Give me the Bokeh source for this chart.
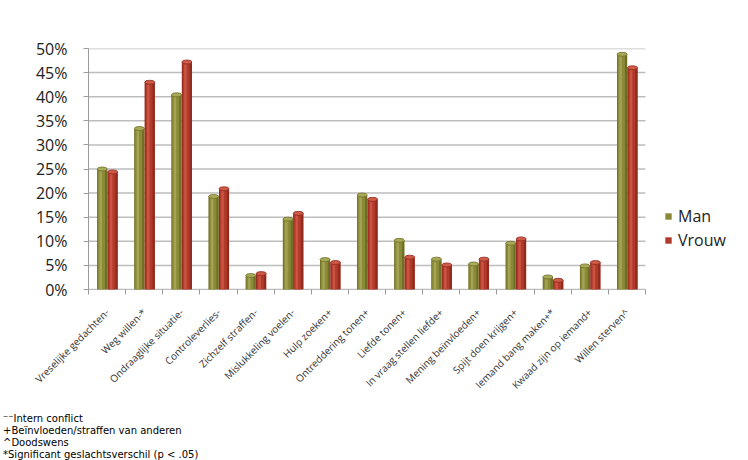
from bokeh.plotting import figure
from bokeh.models import (Range1d, FixedTicker, PrintfTickFormatter,
                          Legend, LegendItem, ColumnDataSource, Div)
from bokeh.layouts import column
from bokeh.embed import file_html
from bokeh.resources import INLINE
import math

categories = ["Vreselijke gedachten-", "Weg willen-*", "Ondraaglijke situatie-",
              "Controleverlies-", "Zichzelf straffen-", "Mislukkeling voelen-",
              "Hulp zoeken+", "Ontreddering tonen+", "Liefde tonen+",
              "In vraag stellen liefde+", "Mening beïnvloeden+", "Spijt doen krijgen+",
              "Iemand bang maken+*", "Kwaad zijn op iemand+", "Willen sterven^"]
man = [25.0, 33.4, 40.4, 19.3, 2.9, 14.6, 6.2, 19.6, 10.2, 6.3, 5.3, 9.6, 2.6, 4.9, 48.8]
vrouw = [24.4, 43.0, 47.2, 20.9, 3.3, 15.8, 5.6, 18.7, 6.7, 5.1, 6.3, 10.5, 1.9, 5.6, 46.0]
y_ticks = [0, 5, 10, 15, 20, 25, 30, 35, 40, 45, 50]
series_names = ["Man", "Vrouw"]
footnotes = ["\u207b\u207bIntern conflict", "+Beïnvloeden/straffen van anderen",
             "^Doodswens", "*Significant geslachtsverschil (p &lt; .05)"]

MAN_C, MAN_D, MAN_L = "#8a8a38", "#6e6e26", "#a9a95a"
VR_C, VR_D, VR_L = "#b23a2b", "#8e2a1e", "#cf5a48"

n = len(categories)
pos = [i + 0.5 for i in range(n)]
bounds = list(range(n + 1))
src = ColumnDataSource(dict(x=pos, man=man, vrouw=vrouw))

FIG_H = 408
p = figure(width=748, height=FIG_H, x_range=Range1d(0, n * 660 / 557),
           y_range=Range1d(0, 50), output_backend="svg", toolbar_location=None,
           min_border_left=88, min_border_right=0, min_border_top=48,
           min_border_bottom=FIG_H - 289)
p.outline_line_color = None
p.background_fill_color = "white"
p.border_fill_color = "white"
p.xgrid.grid_line_color = None
p.ygrid.grid_line_color = None

# horizontal gridlines limited to the category span
p.segment(x0=[0] * len(y_ticks), x1=[n] * len(y_ticks), y0=y_ticks, y1=y_ticks,
          line_color="#bdbdbd", line_width=1.5)
p.segment(x0=[0], x1=[n], y0=[0], y1=[0], line_color="#9a9a9a", line_width=1.2)

p.yaxis.ticker = FixedTicker(ticks=y_ticks)
p.yaxis.formatter = PrintfTickFormatter(format="%d%%")
p.yaxis.major_label_text_font = "Open Sans"
p.yaxis.major_label_text_font_size = "16px"
p.yaxis.major_label_text_color = "#222222"
p.yaxis.axis_line_color = "#9a9a9a"
p.yaxis.major_tick_line_color = "#9a9a9a"
p.yaxis.major_tick_out = 5
p.yaxis.major_tick_in = 0
p.yaxis.minor_tick_line_color = None
p.yaxis.major_label_standoff = 16

p.xaxis.ticker = FixedTicker(ticks=pos, minor_ticks=bounds)
p.xaxis.major_label_overrides = {x: c for x, c in zip(pos, categories)}
p.xaxis.axis_line_color = None
p.xaxis.major_tick_line_color = None
p.xaxis.minor_tick_line_color = "#9a9a9a"
p.xaxis.minor_tick_out = 5
p.xaxis.minor_tick_in = 0
p.xaxis.major_label_orientation = math.pi / 4
p.xaxis.major_label_text_font = "Open Sans"
p.xaxis.major_label_text_font_size = "10px"
p.xaxis.major_label_text_color = "#333333"
p.xaxis.major_label_standoff = 15

off_m, off_v, w = -0.13, 0.15, 0.27
renderers = []
for col, off, c, d, l in [("man", off_m, MAN_C, MAN_D, MAN_L),
                          ("vrouw", off_v, VR_C, VR_D, VR_L)]:
    xs = [x + off for x in pos]
    s = ColumnDataSource(dict(x=xs, xh=[x - 0.02 for x in xs], xl=[x - 0.04 for x in xs],
                              top=src.data[col]))
    r = p.vbar(x="x", top="top", width=w, source=s, fill_color=c, line_color=None)
    p.vbar(x="x", top="top", width=w, source=s, fill_color=d, line_color=None)
    p.vbar(x="xh", top="top", width=w * 0.7, source=s, fill_color=c, line_color=None)
    p.vbar(x="xl", top="top", width=w * 0.25, source=s, fill_color=l, line_color=None,
           fill_alpha=0.8)
    p.ellipse(x="x", y="top", width=w, height=4, height_units="screen", source=s,
              fill_color=l, line_color=d, line_width=0.8)
    renderers.append(r)

legend = Legend(items=[LegendItem(label=series_names[0], renderers=[renderers[0]]),
                       LegendItem(label=series_names[1], renderers=[renderers[1]])],
                location=(576, 37), label_text_font="Open Sans",
                label_text_font_size="16px", glyph_width=8, glyph_height=8,
                label_height=24, spacing=0, label_standoff=6, border_line_color=None,
                background_fill_alpha=0, label_text_color="#222222")
p.add_layout(legend, "center")

div = Div(text="<br>".join(footnotes), width=740, height=460 - FIG_H - 6,
          margin=(5, 0, 0, 3),
          styles={"font-family": "DejaVu Sans", "font-size": "10px",
                  "line-height": "12px", "color": "black"})

layout = column(p, div, spacing=0)
open("out.html", "w").write(file_html(layout, INLINE))
